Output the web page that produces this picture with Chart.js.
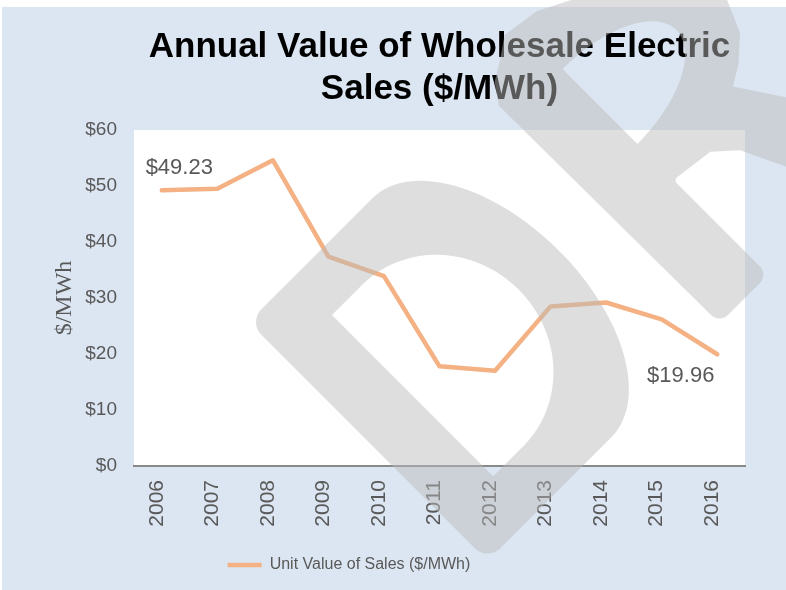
<!DOCTYPE html>
<html>
<head>
<meta charset="utf-8">
<script src="https://cdn.jsdelivr.net/npm/chart.js@4.4.1/dist/chart.umd.min.js"></script>
<style>
  html, body { margin: 0; padding: 0; background: #fff; overflow: hidden; }
  #wrap { width: 786px; height: 590px; }
</style>
</head>
<body>
<div id="wrap"><canvas id="lineCanvas"></canvas></div>
<script>
// data
const years = ["2006", "2007", "2008", "2009", "2010", "2011", "2012", "2013", "2014", "2015", "2016"];
const unitValue = [49.23, 49.5, 54.6, 37.4, 33.9, 17.8, 17.0, 28.5, 29.2, 26.2, 19.96];
const seriesName = "Unit Value of Sales ($/MWh)";
const titleLines = ["Annual Value of Wholesale Electric", "Sales ($/MWh)"];
const yMin = 0, yMax = 60, yStep = 10;
const calloutIdx = [0, 10];

const grey = "#595959";
const S = Math.SQRT1_2;

// background: light blue panel, white plot area
const backgroundPlugin = {
  id: "panel",
  beforeDraw(chart) {
    const { ctx, chartArea: a } = chart;
    ctx.save();
    ctx.fillStyle = "#ffffff";
    ctx.fillRect(0, 0, chart.width, chart.height);
    ctx.fillStyle = "#dce6f2";
    ctx.fillRect(2, 7, chart.width - 2, chart.height - 7);
    ctx.fillStyle = "#ffffff";
    ctx.fillRect(a.left, a.top, a.right - a.left, a.bottom - a.top);
    ctx.restore();
  },
  afterLayout(chart) {
    // legend sits left of centre in the original
    const L = chart.legend;
    const w = L.right - L.left;
    L.left = 349 - w / 2;
    L.right = 349 + w / 2;
  }
};

// first and last value written next to the line
const calloutPlugin = {
  id: "callouts",
  afterDatasetsDraw(chart) {
    const { ctx } = chart;
    const pts = chart.getDatasetMeta(0).data;
    ctx.save();
    ctx.font = "22px 'Liberation Sans', Arial, sans-serif";
    ctx.fillStyle = grey;
    ctx.textAlign = "center";
    ctx.textBaseline = "middle";
    calloutIdx.forEach((i, k) => {
      const p = pts[i];
      const dx = k === 0 ? 17.5 : -36.5;
      const dy = k === 0 ? -22 : 22;
      ctx.fillText("$" + unitValue[i].toFixed(2), p.x + dx, p.y + dy);
    });
    ctx.restore();
  }
};

// big grey "DR" watermark laid over everything
function ellipsePts(cu, cv, a, b, t0, t1, n) {
  const out = [];
  for (let i = 0; i <= n; i++) {
    const t = t0 + (t1 - t0) * i / n;
    out.push([cu + a * Math.cos(t), cv + b * Math.sin(t), 0]);
  }
  return out;
}
function shape(ctx, pts) {
  const P = pts.map(p => [332 + S * (p[0] + p[1]), 315 + S * (p[0] - p[1]), p[2] || 0]);
  const n = P.length;
  ctx.moveTo((P[n - 1][0] + P[0][0]) / 2, (P[n - 1][1] + P[0][1]) / 2);
  for (let i = 0; i < n; i++) {
    const a = P[i], b = P[(i + 1) % n];
    if (a[2]) ctx.arcTo(a[0], a[1], b[0], b[1], a[2]);
    else ctx.lineTo(a[0], a[1]);
  }
  ctx.closePath();
}
const watermarkPlugin = {
  id: "watermark",
  afterDraw(chart) {
    const { ctx } = chart;
    const dOuter = [[-54, -64, 18], [284, -64, 18], [284, 111, 0]].concat(ellipsePts(115, 111, 169, 95, 0, Math.PI, 48));
    const dHole = [[0, 0, 0], [228, 0, 0]].concat(ellipsePts(114, 42.5, 114, 107.5, 0, Math.PI, 48));
    const rOuter = [[280, 268, 12], [-30, 266], [-50, 280], [-62, 300], [-76, 320], [-70, 360], [-54, 391],
      [-20, 440], [20, 480], [57, 502], [89, 488], [110, 465], [122, 445], [167, 475], [260, 570],
      [300, 470], [216, 426], [172, 405], [152, 383], [146, 337, 4], [280, 337, 12]];
    const rHole = [[-11, 337, 0], [95, 337, 0]].concat(ellipsePts(42, 337, 53, 108, 0, Math.PI, 36));
    ctx.save();
    ctx.beginPath();
    shape(ctx, dOuter);
    shape(ctx, dHole);
    shape(ctx, rOuter);
    shape(ctx, rHole);
    ctx.fillStyle = "rgba(187,187,187,0.48)";
    ctx.fill("evenodd");
    ctx.restore();
  }
};

const ctx = document.getElementById("lineCanvas").getContext("2d");
new Chart(ctx, {
  type: "line",
  data: {
    labels: years,
    datasets: [{
      label: seriesName,
      data: unitValue,
      borderColor: "#f4b183",
      backgroundColor: "#f4b183",
      borderWidth: 4.5,
      borderJoinStyle: "round",
      borderCapStyle: "round",
      pointRadius: 0,
      pointHoverRadius: 0,
      tension: 0,
      fill: false
    }]
  },
  options: {
    responsive: true,
    maintainAspectRatio: false,
    animation: false,
    events: [],
    layout: { padding: { top: 16, left: 2, right: 41, bottom: 7 } },
    plugins: {
      title: {
        display: true,
        text: titleLines,
        color: "#000000",
        fullSize: false,
        font: { family: "'Liberation Sans', Arial, sans-serif", size: 35, weight: "bold", lineHeight: 1.2 },
        padding: { top: 10, bottom: 20 }
      },
      legend: {
        position: "bottom",
        labels: {
          usePointStyle: true,
          pointStyle: "line",
          pointStyleWidth: 34,
          color: grey,
          padding: 10,
          font: { family: "'Liberation Sans', Arial, sans-serif", size: 16 }
        }
      },
      tooltip: { enabled: false }
    },
    scales: {
      x: {
        offset: true,
        grid: { display: false, drawTicks: false },
        border: { display: true, color: "#898989", width: 2 },
        ticks: {
          color: grey,
          minRotation: 90,
          maxRotation: 90,
          padding: 14,
          labelOffset: -5,
          font: { family: "'Liberation Sans', Arial, sans-serif", size: 21 }
        },
        afterFit(s) { s.height = 81; }
      },
      y: {
        min: yMin,
        max: yMax,
        grid: { display: false, drawTicks: false },
        border: { display: false },
        ticks: {
          stepSize: yStep,
          color: grey,
          padding: 17,
          font: { family: "'Liberation Sans', Arial, sans-serif", size: 19 },
          callback: v => "$" + v
        },
        title: {
          display: true,
          text: "$/MWh",
          color: grey,
          font: { family: "'Liberation Serif', 'Times New Roman', serif", size: 24 },
          padding: { top: 48, bottom: 0 }
        },
        afterFit(s) { s.width = 132; }
      }
    }
  },
  plugins: [backgroundPlugin, calloutPlugin, watermarkPlugin]
});
</script>
</body>
</html>
